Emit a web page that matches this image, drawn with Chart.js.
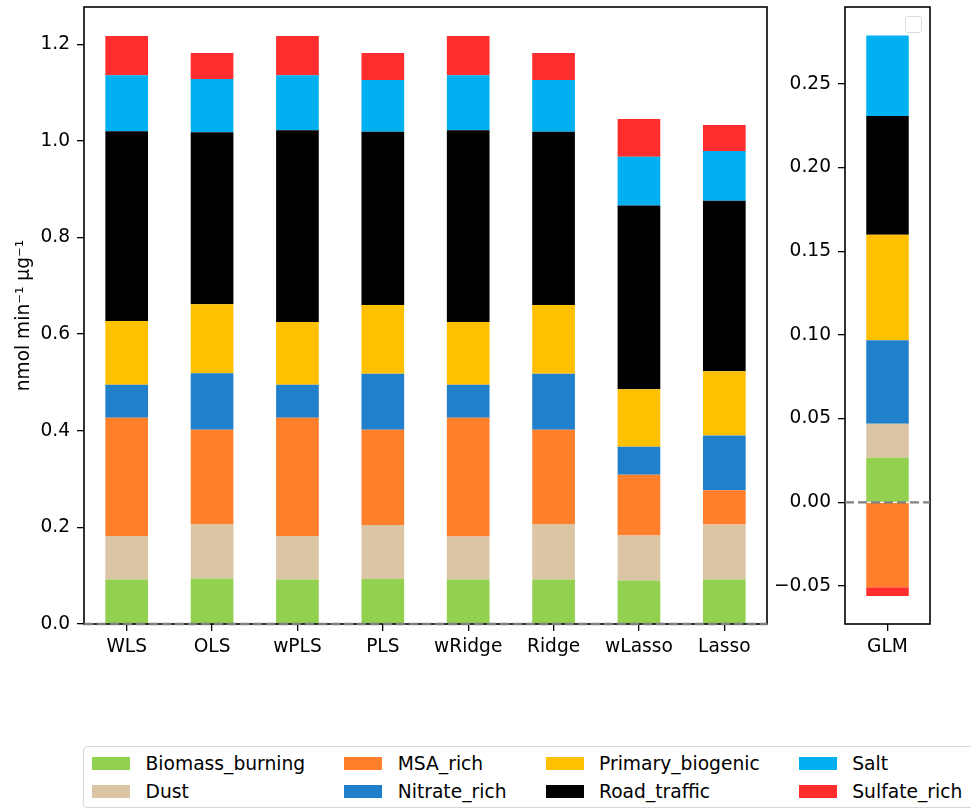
<!DOCTYPE html>
<html>
<head>
<meta charset="utf-8">
<script src="https://cdn.jsdelivr.net/npm/chart.js@4.4.1/dist/chart.umd.min.js"></script>
<style>
  body { margin: 0; background: #fff; width: 971px; height: 809px; overflow: hidden; position: relative; font-family: 'DejaVu Sans', sans-serif; }
  #mainBox { position: absolute; left: 0; top: 0; width: 771px; height: 660px; }
  #glmBox { position: absolute; left: 760px; top: 0; width: 211px; height: 660px; }
  #legend { position: absolute; left: 83px; top: 746px; width: 930px; height: 62px; box-sizing: border-box;
            border: 1px solid #d6d6d6; border-radius: 4px; padding: 3px 0 0 8px;
            display: grid; grid-template-rows: 27.7px 27.7px; grid-auto-flow: column; grid-auto-columns: max-content;
            column-gap: 39px; font-size: 18.7px; color: #000; }
  .item { display: flex; align-items: center; white-space: nowrap; }
  .patch { width: 38px; height: 13px; margin-right: 15.5px; }
  #emptyLegend { position: absolute; left: 905px; top: 16px; width: 15px; height: 15px; border: 1px solid #ddd; border-radius: 3px; }
</style>
</head>
<body>
<div id="mainBox"><canvas id="mainChart"></canvas></div>
<div id="glmBox"><canvas id="glmChart"></canvas></div>
<div id="emptyLegend"></div>
<div id="legend"></div>
<script>
// categories of the left panel
const methods = ['WLS', 'OLS', 'wPLS', 'PLS', 'wRidge', 'Ridge', 'wLasso', 'Lasso'];

// source names and colours (bottom to top of each stack)
const sources = ['Biomass_burning', 'Dust', 'MSA_rich', 'Nitrate_rich', 'Primary_biogenic', 'Road_traffic', 'Salt', 'Sulfate_rich'];
const colors = ['#92d050', '#dbc5a4', '#ff7f2a', '#2180cc', '#ffc000', '#000000', '#00b0f0', '#ff2d2d'];

// contributions per method (nmol min-1 ug-1)
const biomassBurning  = [0.092, 0.094, 0.092, 0.093, 0.092, 0.092, 0.090, 0.092];
const dust            = [0.090, 0.113, 0.090, 0.112, 0.089, 0.115, 0.093, 0.114];
const msaRich         = [0.245, 0.195, 0.245, 0.197, 0.246, 0.195, 0.126, 0.071];
const nitrateRich     = [0.068, 0.117, 0.068, 0.116, 0.068, 0.116, 0.058, 0.113];
const primaryBiogenic = [0.132, 0.143, 0.130, 0.142, 0.130, 0.142, 0.119, 0.133];
const roadTraffic     = [0.393, 0.356, 0.397, 0.359, 0.397, 0.359, 0.380, 0.353];
const salt            = [0.116, 0.110, 0.114, 0.107, 0.114, 0.107, 0.101, 0.103];
const sulfateRich     = [0.081, 0.054, 0.081, 0.056, 0.081, 0.056, 0.078, 0.054];

// right panel
const glmLabel = ['GLM'];
const glmValues = [0.0266, 0.0203, -0.0507, 0.050, 0.063, 0.071, 0.048, -0.0053];

// tick labels
const mainTicks = [0.0, 0.2, 0.4, 0.6, 0.8, 1.0, 1.2];
const glmTicks = [-0.05, 0.00, 0.05, 0.10, 0.15, 0.20, 0.25];

const mainSeries = [biomassBurning, dust, msaRich, nitrateRich, primaryBiogenic, roadTraffic, salt, sulfateRich];

const FONT = { family: "'DejaVu Sans', sans-serif", size: 18.6 };

// draws the box around the plot and the dashed zero line
const frameAndZero = {
    id: 'frameAndZero',
    afterDatasetsDraw(chart) {
        const { ctx, chartArea: a, scales } = chart;
        ctx.save();
        ctx.strokeStyle = '#000';
        ctx.lineWidth = 1.6;
        ctx.strokeRect(a.left, a.top, a.width, a.height);
        const y0 = scales.y.getPixelForValue(0);
        ctx.strokeStyle = '#808080';
        ctx.lineWidth = 2.4;
        ctx.setLineDash([9, 4]);
        ctx.beginPath();
        ctx.moveTo(a.left, y0);
        ctx.lineTo(a.right, y0);
        ctx.stroke();
        ctx.restore();
    }
};

function makeOptions(yMin, yMax, ticks, digits, yWidth, rightPad, title) {
    return {
        responsive: true,
        maintainAspectRatio: false,
        animation: false,
        layout: { padding: { top: 7, right: rightPad, bottom: 0, left: 0 } },
        plugins: { legend: { display: false }, tooltip: { enabled: false } },
        scales: {
            x: {
                stacked: true,
                border: { display: false },
                grid: { display: true, offset: false, drawOnChartArea: false, drawTicks: true, tickLength: 7, color: '#000', lineWidth: 1.3 },
                ticks: { color: '#000', font: FONT, padding: 5, maxRotation: 0 },
                afterFit(scale) { scale.height = 36; }
            },
            y: {
                stacked: true,
                min: yMin,
                max: yMax,
                border: { display: false },
                grid: { display: true, drawOnChartArea: false, drawTicks: true, tickLength: 7, color: '#000', lineWidth: 1.3 },
                ticks: {
                    color: '#000', font: FONT, padding: 7,
                    callback: v => v.toFixed(digits).replace('-', '\u2212')
                },
                afterBuildTicks(scale) { scale.ticks = ticks.map(v => ({ value: v })); },
                afterFit(scale) {
                    scale.width = yWidth;
                    scale.paddingTop = 0;
                    scale.paddingBottom = 0;
                },
                title: title ? { display: true, text: title, color: '#000', font: FONT, padding: { top: 13, bottom: 0 } } : { display: false }
            }
        }
    };
}

new Chart(document.getElementById('mainChart'), {
    type: 'bar',
    data: {
        labels: methods,
        datasets: sources.map((name, i) => ({
            label: name,
            data: mainSeries[i],
            backgroundColor: colors[i],
            borderWidth: 0,
            categoryPercentage: 1.0,
            barPercentage: 0.5
        }))
    },
    options: makeOptions(0, 1.277, mainTicks, 1, 84, 4, 'nmol min\u207B\u00B9 \u03BCg\u207B\u00B9'),
    plugins: [frameAndZero]
});

new Chart(document.getElementById('glmChart'), {
    type: 'bar',
    data: {
        labels: glmLabel,
        datasets: sources.map((name, i) => ({
            label: name,
            data: [glmValues[i]],
            backgroundColor: colors[i],
            borderWidth: 0,
            categoryPercentage: 1.0,
            barPercentage: 0.5
        }))
    },
    options: makeOptions(-0.0727, 0.296, glmTicks, 2, 85, 41, null),
    plugins: [frameAndZero]
});

// legend, filled column by column like the original
const legend = document.getElementById('legend');
sources.forEach((name, i) => {
    const item = document.createElement('div');
    item.className = 'item';
    const patch = document.createElement('span');
    patch.className = 'patch';
    patch.style.background = colors[i];
    const text = document.createElement('span');
    text.textContent = name;
    item.appendChild(patch);
    item.appendChild(text);
    legend.appendChild(item);
});
</script>
</body>
</html>
